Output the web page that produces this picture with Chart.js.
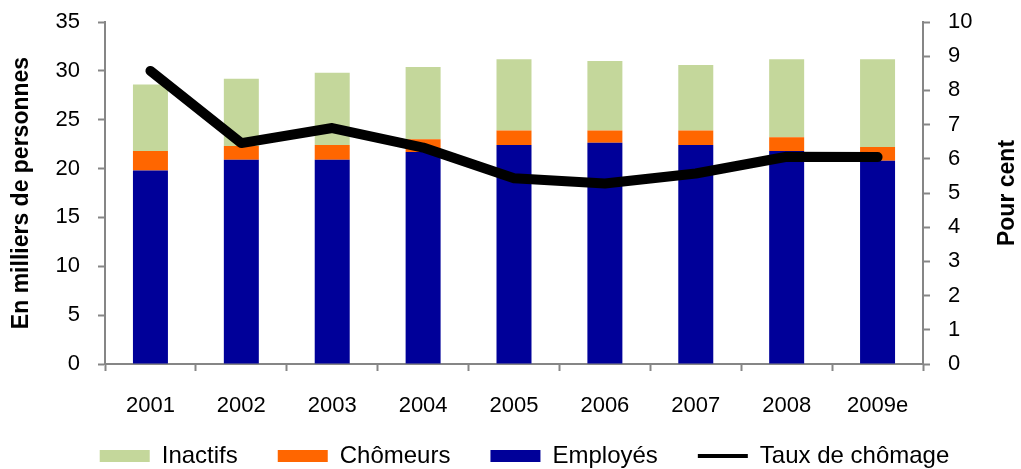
<!DOCTYPE html>
<html>
<head>
<meta charset="utf-8">
<script src="https://cdn.jsdelivr.net/npm/chart.js@4/dist/chart.umd.min.js"></script>
<style>
  html, body { margin: 0; padding: 0; background: #fff; }
  #wrap { width: 1021px; height: 469px; position: relative; }
</style>
</head>
<body>
<div id="wrap"><canvas id="chart"></canvas></div>
<script>
// Data
const years = ['2001', '2002', '2003', '2004', '2005', '2006', '2007', '2008', '2009e'];
const employes = [19.8, 20.9, 20.9, 21.7, 22.4, 22.65, 22.4, 21.8, 20.8];
const chomeurs = [2.0, 1.4, 1.5, 1.3, 1.5, 1.25, 1.5, 1.4, 1.4];
const inactifs = [6.8, 6.9, 7.4, 7.4, 7.3, 7.1, 6.7, 8.0, 9.0];
const tauxChomage = [8.57, 6.46, 6.9, 6.33, 5.43, 5.28, 5.57, 6.06, 6.05];
const leftTicks = [0, 35, 5];   // min, max, step
const rightTicks = [0, 10, 1];
const legendOrder = ['Inactifs', 'Chômeurs', 'Employés', 'Taux de chômage'];

const FONT = "'Liberation Sans', Arial, sans-serif";
const AXIS_GREY = '#868686';

// "Pour cent" reads bottom-to-top, so draw it ourselves
const rightTitle = {
    id: 'rightTitle',
    afterDraw(chart) {
        const { ctx, chartArea } = chart;
        ctx.save();
        ctx.translate(1008, (chartArea.top + chartArea.bottom) / 2);
        ctx.rotate(-Math.PI / 2);
        ctx.font = `bold 23px ${FONT}`;
        ctx.fillStyle = '#000';
        ctx.textAlign = 'center';
        ctx.textBaseline = 'middle';
        ctx.fillText('Pour cent', 0, 0);
        ctx.restore();
    }
};

// x labels are clipped to the axis box, let them run into the legend area
const unclipX = {
    id: 'unclipX',
    afterLayout(chart) {
        chart.scales.x.bottom += 40;
    }
};

// tick padding should not push the plot area down
const fitY = (width) => (scale) => {
    scale.width = width;
    scale.paddingTop = 0;
    scale.paddingBottom = 0;
};

const barStyle = { categoryPercentage: 1, barPercentage: 0.385, borderWidth: 0, order: 1, yAxisID: 'y' };

new Chart(document.getElementById('chart'), {
    type: 'bar',
    data: {
        labels: years,
        datasets: [
            { label: 'Employés', data: employes, backgroundColor: '#000099', ...barStyle },
            { label: 'Chômeurs', data: chomeurs, backgroundColor: '#FF6600', ...barStyle },
            { label: 'Inactifs', data: inactifs, backgroundColor: '#C4D79B', ...barStyle },
            {
                type: 'line',
                label: 'Taux de chômage',
                data: tauxChomage,
                yAxisID: 'y1',
                borderColor: '#000',
                backgroundColor: '#000',
                borderWidth: 10,
                borderCapStyle: 'round',
                borderJoinStyle: 'round',
                pointRadius: 0,
                tension: 0,
                order: 0
            }
        ]
    },
    options: {
        responsive: true,
        maintainAspectRatio: false,
        animation: false,
        layout: { padding: { top: 22, bottom: -9, left: -4, right: -32 } },
        plugins: {
            tooltip: { enabled: false },
            legend: {
                position: 'bottom',
                labels: {
                    font: { family: FONT, size: 24 },
                    color: '#000',
                    usePointStyle: true,
                    pointStyleWidth: 50,
                    boxHeight: 12,
                    padding: 40,
                    sort: (a, b) => legendOrder.indexOf(a.text) - legendOrder.indexOf(b.text),
                    generateLabels(chart) {
                        const items = Chart.defaults.plugins.legend.labels.generateLabels(chart);
                        items.forEach(item => {
                            const ds = chart.data.datasets[item.datasetIndex];
                            if (ds.type === 'line') {
                                item.pointStyle = 'line';
                                item.lineWidth = 4;
                                item.strokeStyle = '#000';
                            } else {
                                item.pointStyle = 'rect';
                                item.lineWidth = 0;
                                item.strokeStyle = ds.backgroundColor;
                            }
                        });
                        return items;
                    }
                }
            }
        },
        scales: {
            x: {
                stacked: true,
                afterFit: (scale) => { scale.height = 40; },
                border: { color: AXIS_GREY, width: 2 },
                grid: { drawOnChartArea: false, tickLength: 7, tickColor: AXIS_GREY, tickWidth: 2 },
                ticks: { font: { family: FONT, size: 22 }, color: '#000', padding: 22, maxRotation: 0, autoSkip: false }
            },
            y: {
                stacked: true,
                position: 'left',
                min: leftTicks[0],
                max: leftTicks[1],
                afterFit: fitY(109),
                border: { color: AXIS_GREY, width: 2 },
                grid: { drawOnChartArea: false, tickLength: 7, tickColor: AXIS_GREY, tickWidth: 2 },
                ticks: { stepSize: leftTicks[2], font: { family: FONT, size: 22 }, color: '#000', padding: 18 },
                title: {
                    display: true,
                    text: 'En milliers de personnes',
                    font: { family: FONT, size: 23, weight: 'bold' },
                    color: '#000',
                    padding: { top: 12, bottom: 0 }
                }
            },
            y1: {
                position: 'right',
                min: rightTicks[0],
                max: rightTicks[1],
                afterFit: fitY(130),
                border: { color: AXIS_GREY, width: 2 },
                grid: { drawOnChartArea: false, tickLength: 7, tickColor: AXIS_GREY, tickWidth: 2 },
                ticks: { stepSize: rightTicks[2], font: { family: FONT, size: 22 }, color: '#000', padding: 18 }
            }
        }
    },
    plugins: [rightTitle, unclipX]
});
</script>
</body>
</html>
